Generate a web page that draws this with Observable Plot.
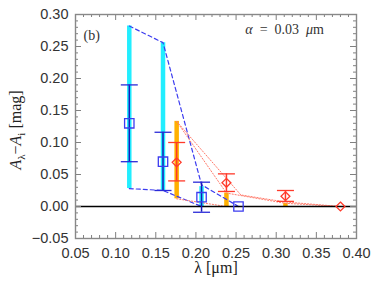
<!DOCTYPE html>
<html><head><meta charset="utf-8">
<script src="https://cdn.jsdelivr.net/npm/d3@7"></script>
<script src="https://cdn.jsdelivr.net/npm/@observablehq/plot@0.6"></script>
<style>body{margin:0;background:#fff}</style>
</head><body><div id="chart"></div>
<script>
// Blue (squares) observed points
const blueX  = [0.117, 0.159, 0.207, 0.253];
const blueY  = [0.130, 0.070, 0.0145, 0.000];
const blueLo = [0.070, 0.025, -0.009, null];
const blueHi = [0.190, 0.116, 0.038, null];
// Cyan model range bars
const cyanX  = [0.117, 0.159, 0.207];
const cyanLo = [0.028, 0.025, 0.000];
const cyanHi = [0.282, 0.256, 0.031];
// Blue dashed envelopes
const bUpX = [0.117, 0.159, 0.207, 0.253];
const bUpY = [0.282, 0.256, 0.034, 0.000];
const bLoX = [0.117, 0.159, 0.207, 0.253];
const bLoY = [0.028, 0.025, 0.000, 0.000];
// Red (diamonds) observed points
const redX  = [0.176, 0.238, 0.3115, 0.380];
const redY  = [0.069, 0.037, 0.016, 0.000];
const redLo = [0.040, 0.0235, 0.008, null];
const redHi = [0.100, 0.051, 0.025, null];
// Orange model range bars
const orX  = [0.176, 0.238, 0.3115];
const orLo = [0.012, 0.000, 0.000];
const orHi = [0.133, 0.021, 0.005];
// Red dotted envelopes
const rAX = [0.176, 0.238, 0.3115, 0.380];
const rAY = [0.133, 0.021, 0.005, 0.000];
const rBX = [0.176, 0.256, 0.3115, 0.380];
const rBY = [0.133, 0.018, 0.007, 0.000];
const rLX = [0.176, 0.238, 0.3115, 0.380];
const rLY = [0.012, 0.000, 0.000, 0.000];
// Axis ticks
const xMajor = [0.05, 0.10, 0.15, 0.20, 0.25, 0.30, 0.35, 0.40];
const yMajor = [-0.05, 0.00, 0.05, 0.10, 0.15, 0.20, 0.25, 0.30];
const xMinor = d3.range(5, 41).map(d => d / 100).filter(d => !xMajor.some(m => Math.abs(m - d) < 1e-9));
const yMinor = d3.range(-5, 31).map(d => d / 100).filter(d => !yMajor.some(m => Math.abs(m - d) < 1e-9));

const blue = blueX.map((x, i) => ({x, y: blueY[i], lo: blueLo[i], hi: blueHi[i]}));
const red = redX.map((x, i) => ({x, y: redY[i], lo: redLo[i], hi: redHi[i]}));
const cyan = cyanX.map((x, i) => ({x, lo: cyanLo[i], hi: cyanHi[i]}));
const orange = orX.map((x, i) => ({x, lo: orLo[i], hi: orHi[i]}));
const pts = (xs, ys) => xs.map((x, i) => ({x, y: ys[i]}));
const blueErr = blue.filter(d => d.lo != null);
const redErr = red.filter(d => d.lo != null);

const cap = {draw(ctx, size) { const r = Math.sqrt(size / Math.PI); ctx.moveTo(-r, 0); ctx.lineTo(r, 0); }};

const W = 374, H = 281, mL = 75, mR = 18, mT = 14, mB = 43;
const fw = W - mL - mR, fh = H - mT - mB;
const BLUE = "#2a2ad8", BLUE2 = "#3c3cf0", RED = "#ff3a2a", DOT = "#ff7a6a";
const tickC = "#808080";

const chart = Plot.plot({
  width: W, height: H, marginLeft: mL, marginRight: mR, marginTop: mT, marginBottom: mB,
  x: {domain: [0.05, 0.40]},
  y: {domain: [-0.05, 0.30]},
  style: {fontFamily: "Liberation Sans", fontSize: "14.5px", color: "#333", background: "#fff"},
  marks: [
    Plot.ruleX(cyan, {x: "x", y1: "lo", y2: "hi", stroke: "#22eeff", strokeWidth: 4.5}),
    Plot.ruleX(orange, {x: "x", y1: "lo", y2: "hi", stroke: "#ffb000", strokeWidth: 4.5}),
    Plot.line(pts(bUpX, bUpY), {x: "x", y: "y", stroke: BLUE2, strokeWidth: 1.2, strokeDasharray: "4,3"}),
    Plot.line(pts(bLoX, bLoY), {x: "x", y: "y", stroke: BLUE2, strokeWidth: 1.2, strokeDasharray: "4,3"}),
    Plot.line(pts(rAX, rAY), {x: "x", y: "y", stroke: DOT, strokeWidth: 1, strokeDasharray: "1.2,1.8"}),
    Plot.line(pts(rBX, rBY), {x: "x", y: "y", stroke: DOT, strokeWidth: 1, strokeDasharray: "1.2,1.8"}),
    Plot.line(pts(rLX, rLY), {x: "x", y: "y", stroke: DOT, strokeWidth: 1, strokeDasharray: "1.2,1.8"}),
    Plot.ruleY([0], {stroke: "#000", strokeWidth: 1.5}),
    Plot.ruleX(blueErr, {x: "x", y1: "lo", y2: "hi", stroke: "#1818b8", strokeWidth: 1.5}),
    Plot.dot(blueErr, {x: "x", y: "lo", symbol: cap, r: 8.5, stroke: BLUE, strokeWidth: 1.3}),
    Plot.dot(blueErr, {x: "x", y: "hi", symbol: cap, r: 8.5, stroke: BLUE, strokeWidth: 1.3}),
    Plot.ruleX(redErr, {x: "x", y1: "lo", y2: "hi", stroke: RED, strokeWidth: 1.5}),
    Plot.dot(redErr, {x: "x", y: "lo", symbol: cap, r: 8.5, stroke: RED, strokeWidth: 1.3}),
    Plot.dot(redErr, {x: "x", y: "hi", symbol: cap, r: 8.5, stroke: RED, strokeWidth: 1.3}),
    Plot.dot(blue, {x: "x", y: "y", symbol: "square", r: 5.3, stroke: BLUE2, strokeWidth: 1.3, fill: "none"}),
    Plot.dot(red, {x: "x", y: "y", symbol: "diamond2", r: 4, stroke: RED, strokeWidth: 1.3, fill: "none"}),
    // inward ticks on all sides
    Plot.tickX(xMinor, {x: d => d, insetTop: fh - 3, stroke: tickC}),
    Plot.tickX(xMajor, {x: d => d, insetTop: fh - 6, stroke: tickC}),
    Plot.tickX(xMinor, {x: d => d, insetBottom: fh - 3, stroke: tickC}),
    Plot.tickX(xMajor, {x: d => d, insetBottom: fh - 6, stroke: tickC}),
    Plot.tickY(yMinor, {y: d => d, insetRight: fw - 3, stroke: tickC}),
    Plot.tickY(yMajor, {y: d => d, insetRight: fw - 6, stroke: tickC}),
    Plot.tickY(yMinor, {y: d => d, insetLeft: fw - 3, stroke: tickC}),
    Plot.tickY(yMajor, {y: d => d, insetLeft: fw - 6, stroke: tickC}),
    Plot.frame({stroke: "#888", strokeWidth: 1.4}),
    Plot.axisX({ticks: xMajor, tickSize: 0, tickPadding: 9, tickFormat: d3.format(".2f"), label: null, fontSize: 14.5}),
    Plot.axisY({ticks: yMajor, tickSize: 0, tickPadding: 7, tickFormat: d3.format(".2f"), label: null, fontSize: 14.5}),
    Plot.text(["(b)"], {frameAnchor: "top-left", dx: 8, dy: 16, textAnchor: "start", fontFamily: "Liberation Serif", fontSize: 14, fill: "#333"}),
    Plot.text(["λ [μm]"], {frameAnchor: "bottom", dy: 34, textAnchor: "middle", fontFamily: "Liberation Serif", fontSize: 16, fill: "#222"})
  ]
});

const svg = d3.select(chart);
// annotation: alpha label
const t = svg.append("text")
  .attr("x", mL + fw - 32).attr("y", mT + 20)
  .attr("text-anchor", "end")
  .attr("font-family", "Liberation Serif").attr("font-size", 14).attr("fill", "#333");
t.append("tspan").attr("font-style", "italic").text("α");
t.append("tspan").text("  =  0.03  ");
t.append("tspan").attr("font-style", "italic").text("μ");
t.append("tspan").text("m");
// y-axis label with subscripts
const yl = svg.append("text")
  .attr("transform", `translate(21,${mT + fh / 2 + 4}) rotate(-90)`)
  .attr("text-anchor", "middle")
  .attr("font-family", "Liberation Serif").attr("font-size", 16).attr("fill", "#222");
yl.append("tspan").attr("font-style", "italic").text("A");
yl.append("tspan").attr("font-size", 11).attr("dy", 4).text("λ");
yl.append("tspan").attr("dy", -4).text("−");
yl.append("tspan").attr("font-style", "italic").text("A");
yl.append("tspan").attr("font-size", 11).attr("dy", 4).text("i");
yl.append("tspan").attr("dy", -4).text(" [mag]");

document.getElementById("chart").appendChild(chart);
</script>
</body></html>
